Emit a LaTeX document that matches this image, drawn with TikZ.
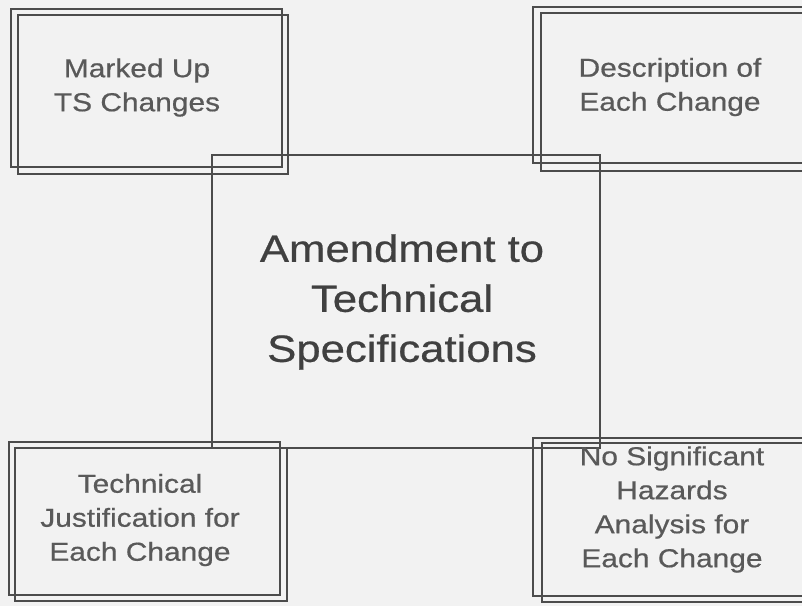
\documentclass[tikz,border=0pt]{standalone}
\usepackage{fontspec}
\setmainfont{Liberation Sans}
\newfontfamily\boxfont[FakeStretch=1.15,FakeBold=0.6]{Liberation Sans}
\tikzset{
  frame/.style={draw=black!70, line width=1.1pt},
  small label/.style={align=center, text=black!65, inner sep=0pt, font=\boxfont\fontsize{26}{34}\selectfont},
  big label/.style={align=center, text=black!75, inner sep=0pt, font=\boxfont\fontsize{38}{50}\selectfont}
}
\begin{document}
\begin{tikzpicture}[x=1pt,y=-1pt]
    \useasboundingbox (0,0) rectangle (802,606);
    \fill[black!5] (0,0) rectangle (802,606);
    \draw[frame] (11,9) rectangle (282,167);
    \draw[frame] (18,15) rectangle (288,174);
    \draw[frame] (533,7) rectangle (812,163);
    \draw[frame] (541,13) rectangle (820,171);
    \draw[frame] (9,442) rectangle (280,595);
    \draw[frame] (15,448) rectangle (287,601);
    \draw[frame] (533,438) rectangle (812,596);
    \draw[frame] (542,443) rectangle (820,602);
    \draw[frame] (212,155) rectangle (600,448);
    \node[small label] (marked) at (137,87.5) {Marked Up\\TS Changes};
    \node[small label] (descr) at (670,87) {Description of\\Each Change};
    \node[small label] (justif) at (140,520) {Technical\\Justification for\\Each Change};
    \node[small label] (hazards) at (672,509.5) {No Significant\\Hazards\\Analysis for\\Each Change};
    \node[big label] (amend) at (402,302) {Amendment to\\Technical\\Specifications};
  \end{tikzpicture}
\end{document}
